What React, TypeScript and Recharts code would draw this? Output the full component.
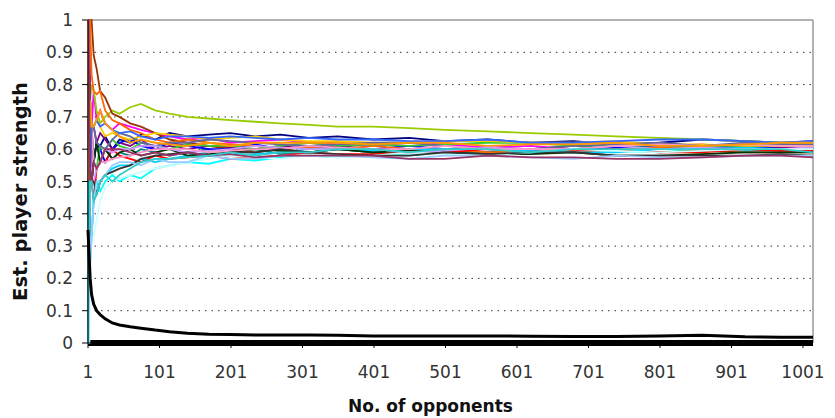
import { LineChart, Line, XAxis, YAxis, CartesianGrid, ReferenceLine } from "recharts"

// opponent counts where each rating track is sampled
const opponents = [1, 2, 3, 4, 6, 9, 13, 18, 25, 35, 45, 60, 75, 95, 115, 140, 170, 200, 235, 270, 310, 350, 400, 450, 500, 560, 620, 680, 740, 800, 860, 920, 970, 1015]

const p01 = [1, 0.5, 0.67, 0.75, 0.67, 0.56, 0.62, 0.61, 0.64, 0.6, 0.63, 0.62, 0.645, 0.63, 0.65, 0.64, 0.645, 0.65, 0.64, 0.645, 0.635, 0.64, 0.63, 0.635, 0.625, 0.63, 0.62, 0.625, 0.615, 0.62, 0.63, 0.625, 0.62, 0.625]
const p02 = [0, 0.5, 0.67, 0.5, 0.67, 0.78, 0.69, 0.72, 0.68, 0.66, 0.68, 0.67, 0.66, 0.65, 0.64, 0.63, 0.635, 0.62, 0.625, 0.63, 0.62, 0.615, 0.61, 0.62, 0.615, 0.605, 0.61, 0.6, 0.605, 0.61, 0.615, 0.6, 0.605, 0.6]
const p03 = [1, 1, 0.67, 0.75, 0.8, 0.78, 0.72, 0.68, 0.7, 0.72, 0.71, 0.73, 0.74, 0.72, 0.71, 0.7, 0.695, 0.69, 0.685, 0.68, 0.675, 0.67, 0.67, 0.665, 0.66, 0.655, 0.65, 0.645, 0.64, 0.635, 0.63, 0.625, 0.62, 0.62]
const p04 = [0, 0, 0.33, 0.25, 0.33, 0.45, 0.5, 0.47, 0.5, 0.52, 0.5, 0.52, 0.51, 0.54, 0.55, 0.56, 0.555, 0.57, 0.565, 0.575, 0.58, 0.575, 0.585, 0.58, 0.59, 0.585, 0.59, 0.6, 0.595, 0.59, 0.6, 0.595, 0.6, 0.6]
const p05 = [1, 1, 1, 0.75, 0.67, 0.67, 0.62, 0.65, 0.63, 0.6, 0.62, 0.61, 0.63, 0.6, 0.61, 0.6, 0.61, 0.605, 0.6, 0.61, 0.6, 0.61, 0.6, 0.595, 0.6, 0.605, 0.6, 0.61, 0.605, 0.6, 0.6, 0.61, 0.605, 0.6]
const p06 = [1, 1, 1, 1, 1, 0.89, 0.85, 0.78, 0.76, 0.71, 0.7, 0.68, 0.67, 0.65, 0.63, 0.62, 0.61, 0.6, 0.59, 0.6, 0.59, 0.6, 0.59, 0.595, 0.6, 0.59, 0.6, 0.595, 0.6, 0.59, 0.595, 0.59, 0.59, 0.59]
const p07 = [0, 0.5, 0.33, 0.5, 0.5, 0.56, 0.54, 0.56, 0.6, 0.57, 0.59, 0.58, 0.6, 0.59, 0.58, 0.59, 0.6, 0.59, 0.6, 0.585, 0.59, 0.6, 0.59, 0.6, 0.595, 0.59, 0.6, 0.6, 0.61, 0.605, 0.61, 0.6, 0.6, 0.6]
const p08 = [1, 0.5, 0.67, 0.5, 0.5, 0.56, 0.62, 0.6, 0.56, 0.6, 0.62, 0.63, 0.61, 0.6, 0.62, 0.61, 0.6, 0.6, 0.615, 0.6, 0.61, 0.6, 0.6, 0.61, 0.6, 0.6, 0.595, 0.6, 0.605, 0.6, 0.6, 0.61, 0.6, 0.6]
const p09 = [1, 1, 1, 1, 0.83, 0.78, 0.77, 0.78, 0.72, 0.69, 0.68, 0.66, 0.65, 0.63, 0.62, 0.63, 0.62, 0.615, 0.61, 0.6, 0.605, 0.6, 0.61, 0.6, 0.6, 0.59, 0.595, 0.59, 0.6, 0.605, 0.6, 0.6, 0.6, 0.6]
const p10 = [0, 0, 0.33, 0.5, 0.5, 0.56, 0.54, 0.61, 0.6, 0.63, 0.61, 0.6, 0.62, 0.61, 0.6, 0.615, 0.61, 0.61, 0.6, 0.61, 0.62, 0.61, 0.615, 0.61, 0.615, 0.62, 0.62, 0.61, 0.61, 0.615, 0.61, 0.61, 0.615, 0.61]
const p11 = [1, 0.5, 0.33, 0.5, 0.5, 0.44, 0.54, 0.56, 0.56, 0.6, 0.58, 0.57, 0.56, 0.58, 0.57, 0.575, 0.58, 0.57, 0.575, 0.58, 0.59, 0.585, 0.585, 0.59, 0.59, 0.6, 0.595, 0.595, 0.6, 0.59, 0.59, 0.6, 0.595, 0.595]
const p12 = [0, 0.5, 0.33, 0.25, 0.33, 0.44, 0.46, 0.5, 0.52, 0.54, 0.55, 0.55, 0.57, 0.56, 0.57, 0.58, 0.59, 0.58, 0.585, 0.59, 0.6, 0.6, 0.595, 0.6, 0.6, 0.6, 0.595, 0.59, 0.59, 0.6, 0.6, 0.605, 0.6, 0.6]
const p13 = [1, 1, 0.67, 0.75, 0.67, 0.67, 0.69, 0.67, 0.64, 0.65, 0.64, 0.63, 0.64, 0.65, 0.645, 0.64, 0.63, 0.635, 0.64, 0.63, 0.625, 0.625, 0.62, 0.62, 0.625, 0.625, 0.62, 0.62, 0.625, 0.615, 0.615, 0.61, 0.61, 0.61]
const p14 = [0, 0.5, 0.67, 0.5, 0.5, 0.56, 0.62, 0.56, 0.6, 0.57, 0.59, 0.6, 0.58, 0.59, 0.6, 0.58, 0.585, 0.59, 0.6, 0.595, 0.59, 0.6, 0.59, 0.595, 0.59, 0.585, 0.585, 0.59, 0.58, 0.58, 0.585, 0.59, 0.59, 0.59]
const p15 = [1, 0.5, 0.67, 0.75, 0.67, 0.67, 0.62, 0.61, 0.6, 0.63, 0.65, 0.64, 0.62, 0.61, 0.62, 0.62, 0.63, 0.625, 0.62, 0.615, 0.61, 0.615, 0.62, 0.62, 0.61, 0.6, 0.6, 0.61, 0.615, 0.62, 0.61, 0.62, 0.615, 0.615]
const p16 = [0, 0.5, 0.33, 0.5, 0.5, 0.5, 0.54, 0.56, 0.6, 0.59, 0.6, 0.6, 0.61, 0.61, 0.6, 0.59, 0.595, 0.6, 0.61, 0.605, 0.6, 0.6, 0.6, 0.59, 0.595, 0.605, 0.6, 0.6, 0.61, 0.6, 0.605, 0.6, 0.6, 0.605]
const p17 = [1, 1, 0.67, 0.75, 0.67, 0.56, 0.54, 0.56, 0.56, 0.57, 0.575, 0.58, 0.59, 0.6, 0.6, 0.6, 0.59, 0.595, 0.6, 0.6, 0.61, 0.605, 0.6, 0.6, 0.61, 0.6, 0.6, 0.6, 0.61, 0.615, 0.61, 0.615, 0.61, 0.61]
const p18 = [1, 0.5, 0.67, 0.5, 0.67, 0.67, 0.69, 0.67, 0.68, 0.66, 0.65, 0.655, 0.64, 0.63, 0.64, 0.64, 0.635, 0.64, 0.635, 0.63, 0.635, 0.63, 0.63, 0.625, 0.625, 0.63, 0.62, 0.62, 0.625, 0.63, 0.63, 0.625, 0.62, 0.625]
const p19 = [0, 0, 0, 0.25, 0.33, 0.33, 0.38, 0.44, 0.48, 0.5, 0.51, 0.52, 0.53, 0.54, 0.55, 0.56, 0.57, 0.58, 0.575, 0.57, 0.58, 0.575, 0.58, 0.59, 0.585, 0.58, 0.59, 0.6, 0.595, 0.59, 0.595, 0.6, 0.6, 0.6]
const p20 = [0, 0.5, 0.67, 0.5, 0.5, 0.5, 0.46, 0.5, 0.52, 0.53, 0.54, 0.55, 0.57, 0.58, 0.585, 0.59, 0.58, 0.59, 0.59, 0.6, 0.59, 0.585, 0.58, 0.58, 0.59, 0.585, 0.59, 0.59, 0.58, 0.58, 0.58, 0.58, 0.585, 0.58]
const p21 = [0, 0, 0.33, 0.25, 0.33, 0.44, 0.5, 0.5, 0.52, 0.55, 0.56, 0.56, 0.55, 0.57, 0.56, 0.56, 0.58, 0.57, 0.57, 0.58, 0.58, 0.58, 0.575, 0.57, 0.58, 0.58, 0.575, 0.57, 0.58, 0.575, 0.575, 0.58, 0.58, 0.58]
const p22 = [1, 0.5, 0.67, 0.75, 0.67, 0.67, 0.69, 0.72, 0.68, 0.66, 0.64, 0.62, 0.63, 0.62, 0.615, 0.61, 0.62, 0.61, 0.62, 0.62, 0.62, 0.62, 0.615, 0.62, 0.62, 0.61, 0.615, 0.615, 0.62, 0.61, 0.61, 0.615, 0.62, 0.62]
const p23 = [1, 1, 0.67, 0.5, 0.5, 0.56, 0.54, 0.56, 0.6, 0.6, 0.6, 0.59, 0.58, 0.59, 0.58, 0.59, 0.58, 0.585, 0.575, 0.58, 0.58, 0.58, 0.58, 0.57, 0.57, 0.58, 0.575, 0.575, 0.57, 0.57, 0.575, 0.58, 0.58, 0.575]
const p24 = [0, 0.5, 0.33, 0.5, 0.5, 0.44, 0.46, 0.5, 0.52, 0.5, 0.52, 0.54, 0.56, 0.57, 0.57, 0.575, 0.58, 0.59, 0.58, 0.59, 0.59, 0.6, 0.6, 0.59, 0.6, 0.6, 0.59, 0.6, 0.6, 0.6, 0.6, 0.6, 0.6, 0.59]

// the one weak player whose estimate sinks towards zero
const weak = [0.35, 0.3, 0.25, 0.2, 0.15, 0.12, 0.1, 0.088, 0.075, 0.062, 0.056, 0.05, 0.046, 0.04, 0.035, 0.03, 0.027, 0.026, 0.025, 0.025, 0.025, 0.024, 0.022, 0.022, 0.022, 0.022, 0.021, 0.02, 0.02, 0.022, 0.024, 0.019, 0.018, 0.018]
// players that never win, all sitting on zero
const zeroed = [0, 0, 0, 0, 0, 0, 0, 0, 0, 0, 0, 0, 0, 0, 0, 0, 0, 0, 0, 0, 0, 0, 0, 0, 0, 0, 0, 0, 0, 0, 0, 0, 0, 0]

const players = [p01, p02, p03, p04, p05, p06, p07, p08, p09, p10, p11, p12, p13, p14, p15, p16, p17, p18, p19, p20, p21, p22, p23, p24]
const lineColors = [
    "#000080", "#FF00FF", "#99CC00", "#00FFFF", "#800080", "#993300", "#008080", "#0000FF",
    "#FF6600", "#33CC33", "#FF0000", "#00CCFF", "#FFCC00", "#003300", "#666699", "#CC99FF",
    "#FF99CC", "#3366FF", "#CCFFFF", "#333333", "#99CCFF", "#FF9900", "#993366", "#33CCCC",
]

const xTicks = [1, 101, 201, 301, 401, 501, 601, 701, 801, 901, 1001]
const yTicks = [0, 0.1, 0.2, 0.3, 0.4, 0.5, 0.6, 0.7, 0.8, 0.9, 1]

const rows = opponents.map((n, i) => {
    const row: Record<string, number> = { n, weak: weak[i], zeroed: zeroed[i] }
    players.forEach((p, k) => {
        row["p" + k] = p[i]
    })
    return row
})

const tickStyle = { fontFamily: "DejaVu Sans", fontSize: 17, fill: "#333" }

const App = () => {
    return (
        <LineChart width={827} height={410} data={rows} margin={{ top: 12, right: 22, bottom: 3, left: 0 }}>
            <CartesianGrid vertical={false} stroke="#333" strokeDasharray="1.5 5" horizontalValues={yTicks.slice(1, 10)} />
            <ReferenceLine y={1} stroke="#999" strokeWidth={1.5} />
            <ReferenceLine x={1015} stroke="#999" strokeWidth={1.5} />
            <XAxis
                dataKey="n"
                type="number"
                domain={[1, 1015]}
                ticks={xTicks}
                interval={0}
                height={72}
                tick={tickStyle}
                tickSize={5}
                tickMargin={18}
                stroke="#000"
                label={{
                    content: ({ viewBox }: any) => (
                        <text
                            x={viewBox.x + viewBox.width / 2 - 20}
                            y={404}
                            textAnchor="middle"
                            fontFamily="DejaVu Sans"
                            fontWeight="bold"
                            fontSize={17}
                            fill="#111"
                        >
                            No. of opponents
                        </text>
                    ),
                }}
            />
            <YAxis
                type="number"
                domain={[0, 1]}
                ticks={yTicks}
                interval={0}
                width={80}
                tick={tickStyle}
                tickSize={6}
                tickMargin={9}
                stroke="#000"
                tickFormatter={(v: number) => String(Math.round(v * 10) / 10)}
                label={{
                    content: ({ viewBox }: any) => {
                        const cy = viewBox.y + viewBox.height / 2 + 10
                        return (
                            <text
                                x={12}
                                y={cy}
                                transform={`rotate(-90 12 ${cy})`}
                                textAnchor="middle"
                                dominantBaseline="central"
                                fontFamily="DejaVu Sans"
                                fontWeight="bold"
                                fontSize={19.5}
                                fill="#111"
                            >
                                Est. player strength
                            </text>
                        )
                    },
                }}
            />
            <Line dataKey="zeroed" stroke="#000" strokeWidth={6} dot={false} activeDot={false} isAnimationActive={false} />
            {players.map((_, k) => (
                <Line
                    key={k}
                    dataKey={"p" + k}
                    stroke={lineColors[k]}
                    strokeWidth={1.8}
                    dot={false}
                    activeDot={false}
                    isAnimationActive={false}
                />
            ))}
            <Line dataKey="weak" stroke="#000" strokeWidth={3} dot={false} activeDot={false} isAnimationActive={false} />
        </LineChart>
    )
}

export default App
